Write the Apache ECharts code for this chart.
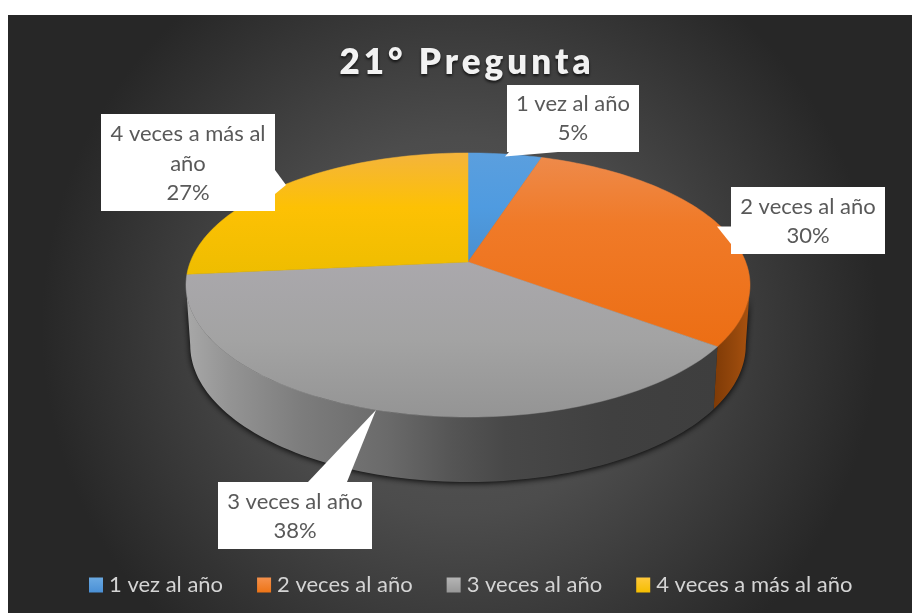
<!DOCTYPE html>
<html><head><meta charset="utf-8">
<style>html,body{margin:0;padding:0;background:#fff}#c{width:912px;height:613px}</style>
<script src="https://cdn.jsdelivr.net/npm/echarts@6/dist/echarts.min.js"></script>
</head><body><div id="c"></div>
<script>
const titleText = '21° Pregunta';
const categories = ['1 vez al año', '2 veces al año', '3 veces al año', '4 veces a más al año'];
const values = [5, 30.1, 38.4, 26.5];
const total = values.reduce((a, b) => a + b, 0);

// Perspective of the disc (screen space)
const CX = 468, APEX_Y = 262, A = 82.4, C = -0.1742, R = 277.7;
function proj(deg, scale, drop) {
  const t = deg * Math.PI / 180, u = Math.sin(t), v = -Math.cos(t), d = 1 + C * v;
  const dy = drop ? drop[0] + drop[1] * v : 0;
  return [CX + scale * R * u / d, (A * v + APEX_Y) / d + dy];
}
const DROP = [59, 6], BASE_SCALE = 0.985;
function arc(a0, a1, scale, drop) {
  const n = Math.max(2, Math.ceil(Math.abs(a1 - a0) / 1.5)), pts = [];
  for (let i = 0; i <= n; i++) pts.push(proj(a0 + (a1 - a0) * i / n, scale, drop));
  return pts;
}
const grad = (x, y, x2, y2, stops) => ({ type: 'linear', x, y, x2, y2,
  colorStops: stops.map(s => ({ offset: s[0], color: s[1] })) });

const topFill = [
  grad(0,0,0,1,[[0,'#5b9fde'],[0.5,'#4f9be0'],[1,'#4a8fcf']]),
  grad(0,0,0,1,[[0,'#ee8a4a'],[0.35,'#f07a28'],[1,'#ec6e14']]),
  grad(0,0,0,1,[[0,'#aaa8ac'],[0.5,'#a3a3a3'],[1,'#949494']]),
  grad(0,0,0,1,[[0,'#f4b43c'],[0.45,'#fdc104'],[1,'#eebd00']])
];
const legendFill = [
  grad(0,0,0,1,[[0,'#6aa9e2'],[1,'#4a90d6']]),
  grad(0,0,0,1,[[0,'#f5914c'],[1,'#ed7416']]),
  grad(0,0,0,1,[[0,'#b5b5b5'],[1,'#979797']]),
  grad(0,0,0,1,[[0,'#ffc93c'],[1,'#f5be00']])
];
const wallFill = [
  null,
  grad(0,0,1,0,[[0,'#7e3a06'],[0.6,'#96480c'],[1,'#a9520f']]),
  grad(0,0,1,0,[[0,'#a8a8a8'],[0.08,'#949494'],[0.22,'#7c7c7c'],[0.38,'#6a6a6a'],[0.5,'#555555'],[0.6,'#484848'],[0.8,'#404040'],[1,'#3e3e3e']]),
  null
];
// cumulative slice angles
const starts = []; let acc = 0;
values.forEach(v => { starts.push(acc / total * 360); acc += v; });
const RIGHT_EXT = 100, LEFT_EXT = 260;

const callouts = [
  { box: [507, 85, 132, 67], tail: [[509,152],[558,152],[505,156.5]], lines: [104, 133] },
  { box: [731, 187, 154, 67], tail: [[717,226.5],[731,226.5],[731,244]], lines: [207, 236] },
  { box: [218, 482, 154, 67], tail: [[308,482],[347,482],[376,410]], lines: [502, 531] },
  { box: [101, 114, 174, 97], tail: [[275,170],[275,194],[286,185]], lines: [134, 164, 193] }
];
const calloutText = [['1 vez al año'], ['2 veces al año'], ['3 veces al año'], ['4 veces a más al', 'año']];

const FONT = 'Lato';
// widen only the title's glyph spacing
const origFill = CanvasRenderingContext2D.prototype.fillText;
CanvasRenderingContext2D.prototype.fillText = function (t, x, y, m) {
  if (t === titleText) { const o = this.letterSpacing; this.letterSpacing = '4px';
    m === undefined ? origFill.call(this, t, x, y) : origFill.call(this, t, x, y, m); this.letterSpacing = o; }
  else { m === undefined ? origFill.call(this, t, x, y) : origFill.call(this, t, x, y, m); }
};

const sliceSeries = categories.map((name, i) => ({
  type: 'custom', name, coordinateSystem: 'none', z: 3,
  itemStyle: { color: legendFill[i] },
  data: [[values[i]]],
  renderItem() {
    const a0 = starts[i], a1 = a0 + values[i] / total * 360, kids = [];
    const w0 = Math.max(a0, RIGHT_EXT), w1 = Math.min(a1, LEFT_EXT);
    if (w1 > w0 && wallFill[i]) {
      const pts = arc(w0, w1, 1).concat(arc(w1, w0, BASE_SCALE, DROP));
      kids.push({ type: 'polygon', shape: { points: pts }, style: { fill: wallFill[i] } });
    }
    const pts = [[CX, APEX_Y]].concat(arc(a0, a1, 1));
    kids.push({ type: 'polygon', z2: 5, shape: { points: pts }, style: { fill: topFill[i], stroke: topFill[i], lineWidth: 0.5 } });
    return { type: 'group', children: kids };
  }
}));

const baseShadow = {
  type: 'custom', name: 'base', coordinateSystem: 'none', z: 2, data: [[1]], silent: true,
  renderItem() {
    return { type: 'polygon', shape: { points: arc(RIGHT_EXT, LEFT_EXT, BASE_SCALE, DROP).concat(arc(LEFT_EXT, RIGHT_EXT, 1)) },
      style: { fill: '#222', shadowBlur: 6, shadowColor: 'rgba(0,0,0,0.95)', shadowOffsetY: 1 } };
  }
};

const calloutSeries = {
  type: 'custom', name: 'callouts', coordinateSystem: 'none', z: 6, silent: true,
  data: values.map((v, i) => [Math.round(v / total * 100), i]),
  renderItem(params, api) {
    const i = api.value(1), c = callouts[i], kids = [];
    kids.push({ type: 'polygon', shape: { points: c.tail }, style: { fill: '#fff' } });
    kids.push({ type: 'rect', shape: { x: c.box[0], y: c.box[1], width: c.box[2], height: c.box[3] }, style: { fill: '#fff' } });
    const lines = calloutText[i].concat([api.value(0) + '%']);
    lines.forEach((t, k) => kids.push({ type: 'text', style: {
      text: t, x: c.box[0] + c.box[2] / 2, y: c.lines[k], align: 'center', verticalAlign: 'middle',
      fill: '#595959', font: '22px ' + FONT } }));
    return { type: 'group', children: kids };
  }
};

const chart = echarts.init(document.getElementById('c'), null, { renderer: 'canvas' });
chart.setOption({
  animation: false,
  backgroundColor: '#fff',
  title: { text: titleText, left: 462, top: 40, textAlign: 'center',
    textStyle: { fontFamily: FONT, fontWeight: 800, fontSize: 35, color: '#f2f2f2',
      textShadowColor: 'rgba(0,0,0,0.7)', textShadowBlur: 3, textShadowOffsetY: 2 } },
  legend: { left: 89, top: 574, padding: 0, itemWidth: 14, itemHeight: 15, itemGap: 34, data: categories, icon: 'rect',
    textStyle: { fontFamily: FONT, fontSize: 22, color: '#d4d4d4', padding: [0, 0, 3, 1] } },
  graphic: [{ type: 'rect', z: -10, silent: true, shape: { x: 8, y: 15, width: 904, height: 598 },
    style: { fill: { type: 'radial', x: 0.5, y: 0.52, r: 0.7,
      colorStops: [{ offset: 0, color: '#595959' }, { offset: 0.45, color: '#4c4c4c' }, { offset: 1, color: '#272727' }] } } }],
  series: [baseShadow, ...sliceSeries, calloutSeries]
});
</script></body></html>
